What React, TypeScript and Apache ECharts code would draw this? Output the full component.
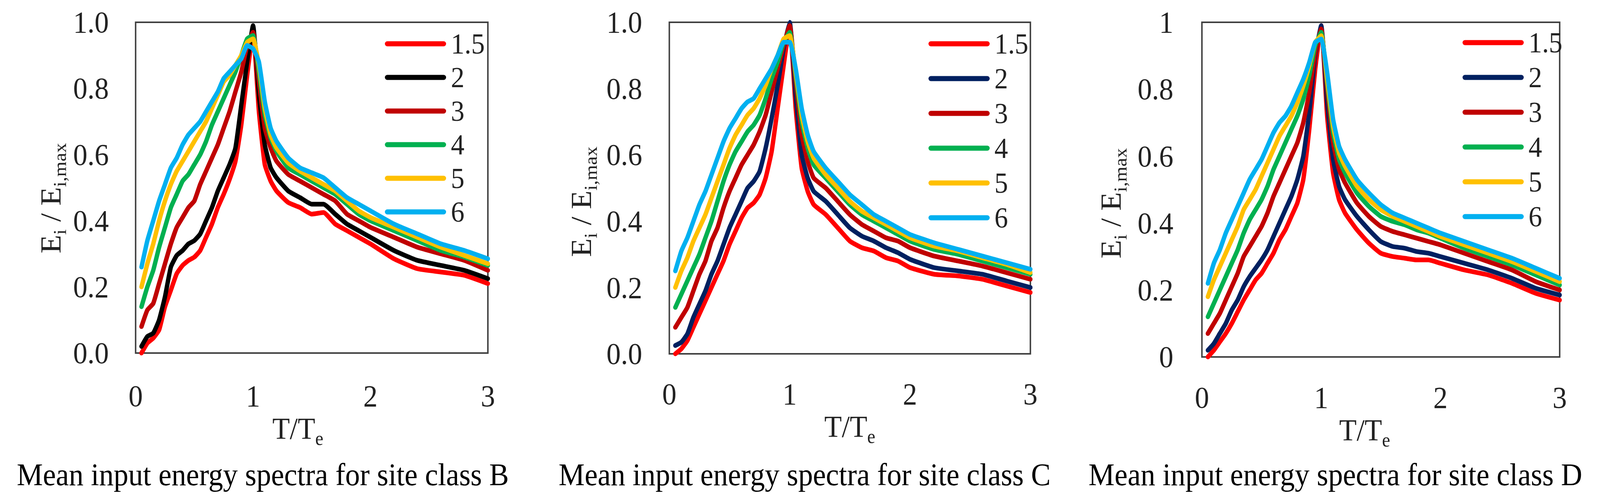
import React, { useEffect, useRef, useState } from "react";
import * as echarts from "echarts";

// ---------- data ----------
const X = [0.05, 0.1, 0.15, 0.2, 0.25, 0.3, 0.35, 0.4, 0.45, 0.5, 0.55, 0.6, 0.65, 0.7, 0.75, 0.8, 0.85, 0.9, 0.95, 1.0,
  1.05, 1.1, 1.15, 1.2, 1.3, 1.4, 1.5, 1.6, 1.7, 1.8, 1.9, 2.0, 2.2, 2.4, 2.6, 2.8, 3.0];
const NAMES = ["1.5", "2", "3", "4", "5", "6"];
const COLORS_B = ["#FF0000", "#000000", "#C00000", "#00B050", "#FFC000", "#00B0F0"];
const COLORS_CD = ["#FF0000", "#002060", "#C00000", "#00B050", "#FFC000", "#00B0F0"];

// Site class B
const B_1_5 = [0.0, 0.03, 0.045, 0.07, 0.14, 0.19, 0.24, 0.265, 0.28, 0.29, 0.31, 0.35, 0.39, 0.44, 0.48, 0.525, 0.58, 0.69, 0.84, 0.97,
  0.73, 0.57, 0.52, 0.49, 0.455, 0.44, 0.42, 0.425, 0.39, 0.37, 0.35, 0.33, 0.285, 0.255, 0.245, 0.235, 0.21];
const B_2 = [0.02, 0.05, 0.06, 0.10, 0.17, 0.26, 0.295, 0.31, 0.33, 0.34, 0.36, 0.40, 0.44, 0.49, 0.53, 0.57, 0.62, 0.75, 0.88, 0.99,
  0.78, 0.63, 0.56, 0.53, 0.49, 0.47, 0.45, 0.45, 0.42, 0.39, 0.37, 0.35, 0.31, 0.28, 0.265, 0.25, 0.225];
const B_3 = [0.08, 0.13, 0.15, 0.21, 0.27, 0.33, 0.38, 0.41, 0.44, 0.46, 0.51, 0.55, 0.59, 0.63, 0.68, 0.73, 0.79, 0.85, 0.93, 0.97,
  0.82, 0.68, 0.62, 0.58, 0.54, 0.52, 0.50, 0.48, 0.46, 0.42, 0.40, 0.38, 0.35, 0.32, 0.30, 0.28, 0.25];
const B_4 = [0.14, 0.20, 0.25, 0.32, 0.38, 0.44, 0.48, 0.52, 0.54, 0.57, 0.60, 0.64, 0.69, 0.73, 0.77, 0.81, 0.85, 0.90, 0.95, 0.96,
  0.85, 0.72, 0.65, 0.61, 0.56, 0.54, 0.52, 0.50, 0.48, 0.45, 0.42, 0.40, 0.37, 0.34, 0.31, 0.29, 0.265];
const B_5 = [0.20, 0.27, 0.33, 0.40, 0.46, 0.51, 0.55, 0.58, 0.61, 0.64, 0.67, 0.70, 0.74, 0.78, 0.82, 0.84, 0.87, 0.90, 0.94, 0.95,
  0.87, 0.74, 0.66, 0.62, 0.575, 0.55, 0.53, 0.51, 0.49, 0.46, 0.43, 0.41, 0.38, 0.35, 0.32, 0.295, 0.27];
const B_6 = [0.26, 0.34, 0.40, 0.46, 0.51, 0.56, 0.59, 0.63, 0.66, 0.68, 0.70, 0.73, 0.76, 0.79, 0.83, 0.85, 0.87, 0.89, 0.93, 0.92,
  0.88, 0.76, 0.68, 0.64, 0.59, 0.56, 0.545, 0.53, 0.50, 0.47, 0.45, 0.43, 0.39, 0.36, 0.33, 0.31, 0.285];

// Site class C
const C_1_5 = [0.0, 0.015, 0.04, 0.08, 0.12, 0.16, 0.20, 0.24, 0.28, 0.33, 0.37, 0.41, 0.44, 0.455, 0.48, 0.53, 0.61, 0.74, 0.87, 0.99,
  0.74, 0.56, 0.49, 0.45, 0.42, 0.38, 0.34, 0.32, 0.31, 0.29, 0.28, 0.26, 0.24, 0.235, 0.225, 0.205, 0.185];
const C_2 = [0.025, 0.035, 0.06, 0.11, 0.15, 0.19, 0.24, 0.28, 0.33, 0.38, 0.42, 0.46, 0.50, 0.52, 0.55, 0.62, 0.71, 0.81, 0.92, 1.0,
  0.78, 0.60, 0.53, 0.49, 0.46, 0.42, 0.38, 0.355, 0.34, 0.32, 0.305, 0.285, 0.26, 0.25, 0.24, 0.22, 0.20];
const C_3 = [0.08, 0.11, 0.14, 0.19, 0.24, 0.28, 0.34, 0.38, 0.44, 0.49, 0.53, 0.57, 0.60, 0.63, 0.67, 0.72, 0.79, 0.86, 0.93, 0.99,
  0.82, 0.66, 0.58, 0.53, 0.50, 0.46, 0.42, 0.39, 0.37, 0.35, 0.34, 0.32, 0.295, 0.28, 0.265, 0.245, 0.225];
const C_4 = [0.14, 0.18, 0.22, 0.26, 0.30, 0.35, 0.40, 0.46, 0.52, 0.57, 0.61, 0.64, 0.67, 0.69, 0.72, 0.77, 0.83, 0.88, 0.94, 0.97,
  0.84, 0.70, 0.62, 0.57, 0.53, 0.49, 0.45, 0.42, 0.40, 0.38, 0.36, 0.34, 0.315, 0.30, 0.28, 0.26, 0.24];
const C_5 = [0.20, 0.25, 0.29, 0.34, 0.38, 0.42, 0.47, 0.52, 0.57, 0.62, 0.66, 0.69, 0.72, 0.74, 0.77, 0.81, 0.86, 0.90, 0.95, 0.96,
  0.85, 0.72, 0.64, 0.59, 0.54, 0.50, 0.46, 0.43, 0.41, 0.39, 0.37, 0.35, 0.325, 0.31, 0.29, 0.27, 0.245];
const C_6 = [0.25, 0.31, 0.35, 0.40, 0.45, 0.49, 0.54, 0.59, 0.64, 0.68, 0.71, 0.74, 0.76, 0.77, 0.80, 0.83, 0.86, 0.90, 0.94, 0.94,
  0.86, 0.74, 0.66, 0.61, 0.56, 0.52, 0.48, 0.45, 0.42, 0.40, 0.38, 0.36, 0.335, 0.315, 0.295, 0.275, 0.255];

// Site class D
const D_1_5 = [0.0, 0.02, 0.045, 0.07, 0.10, 0.135, 0.17, 0.20, 0.23, 0.25, 0.28, 0.31, 0.35, 0.38, 0.42, 0.46, 0.53, 0.68, 0.86, 0.99,
  0.72, 0.55, 0.47, 0.43, 0.38, 0.34, 0.31, 0.30, 0.295, 0.29, 0.29, 0.28, 0.26, 0.245, 0.22, 0.19, 0.17];
const D_2 = [0.02, 0.04, 0.07, 0.10, 0.14, 0.17, 0.21, 0.24, 0.265, 0.29, 0.32, 0.36, 0.40, 0.44, 0.48, 0.53, 0.60, 0.73, 0.90, 0.99,
  0.76, 0.59, 0.51, 0.47, 0.42, 0.38, 0.345, 0.33, 0.325, 0.315, 0.31, 0.30, 0.28, 0.26, 0.235, 0.205, 0.185];
const D_3 = [0.07, 0.10, 0.13, 0.17, 0.21, 0.25, 0.30, 0.33, 0.36, 0.39, 0.43, 0.48, 0.52, 0.56, 0.60, 0.64, 0.70, 0.79, 0.91, 0.98,
  0.80, 0.64, 0.56, 0.52, 0.46, 0.42, 0.39, 0.375, 0.365, 0.355, 0.345, 0.335, 0.31, 0.285, 0.26, 0.225, 0.20];
const D_4 = [0.12, 0.16, 0.20, 0.24, 0.28, 0.32, 0.37, 0.41, 0.44, 0.47, 0.51, 0.56, 0.60, 0.64, 0.68, 0.72, 0.77, 0.84, 0.93, 0.97,
  0.82, 0.67, 0.59, 0.55, 0.49, 0.45, 0.42, 0.405, 0.395, 0.38, 0.37, 0.355, 0.325, 0.30, 0.275, 0.245, 0.215];
const D_5 = [0.18, 0.23, 0.27, 0.31, 0.35, 0.39, 0.44, 0.47, 0.50, 0.54, 0.58, 0.62, 0.66, 0.69, 0.72, 0.76, 0.81, 0.87, 0.94, 0.96,
  0.83, 0.69, 0.61, 0.57, 0.51, 0.47, 0.44, 0.42, 0.405, 0.39, 0.375, 0.36, 0.335, 0.31, 0.285, 0.255, 0.225];
const D_6 = [0.22, 0.28, 0.32, 0.37, 0.41, 0.45, 0.49, 0.53, 0.56, 0.59, 0.63, 0.67, 0.70, 0.72, 0.75, 0.79, 0.83, 0.88, 0.94, 0.95,
  0.85, 0.71, 0.63, 0.59, 0.53, 0.49, 0.455, 0.43, 0.415, 0.40, 0.385, 0.37, 0.345, 0.32, 0.295, 0.265, 0.235];

const CAPTIONS = [
  "Mean input energy spectra for site class B",
  "Mean input energy spectra for site class C",
  "Mean input energy spectra for site class D",
];

// ---------- layout ----------
const PAGE_W = 4365;
const PAGE_H = 1284;
const FONT = "Liberation Serif";
const TXT = "#222222";
const LEGEND_ICON = "path://M6.5,0L160.5,0A6.5,6.5,0,0,1,160.5,13L6.5,13A6.5,6.5,0,0,1,6.5,0Z";

type Panel = {
  left: number; width: number;
  grid: { left: number; top: number; width: number; height: number };
  values: number[][]; colors: string[]; caption: string; capX: number;
  yFmt: (v: number) => string;
  xMargin: number; yMargin: number;
  xNameGap: number; xNameShift: number;
  yNameGap: number; yNameShift: number;
  legendLeft: number; legendTop: number; legendGap: number;
};

const PANELS: Panel[] = [
  {
    left: 0, width: 1450,
    grid: { left: 370, top: 57, width: 961, height: 846 },
    values: [B_1_5, B_2, B_3, B_4, B_5, B_6], colors: COLORS_B, caption: CAPTIONS[0], capX: 717,
    yFmt: (v) => v.toFixed(1),
    xMargin: 71, yMargin: 73, xNameGap: 128, xNameShift: -38, yNameGap: 176, yNameShift: 27,
    legendLeft: 1045, legendTop: 70, legendGap: 12,
  },
  {
    left: 1450, width: 1450,
    grid: { left: 376, top: 57, width: 985, height: 848 },
    values: [C_1_5, C_2, C_3, C_4, C_5, C_6], colors: COLORS_CD, caption: CAPTIONS[1], capX: 745,
    yFmt: (v) => v.toFixed(1),
    xMargin: 64, yMargin: 74, xNameGap: 127, xNameShift: 0, yNameGap: 190, yNameShift: 35,
    legendLeft: 1078, legendTop: 70, legendGap: 15,
  },
  {
    left: 2900, width: 1465,
    grid: { left: 379, top: 57, width: 976, height: 856 },
    values: [D_1_5, D_2, D_3, D_4, D_5, D_6], colors: COLORS_CD, caption: CAPTIONS[2], capX: 743,
    yFmt: (v) => String(Math.round(v * 10) / 10),
    xMargin: 65, yMargin: 78, xNameGap: 129, xNameShift: -44, yNameGap: 198, yNameShift: 35,
    legendLeft: 1085, legendTop: 67, legendGap: 15,
  },
];

function buildOption(p: Panel): any {
  const rich = {
    m: { fontFamily: FONT, fontSize: 78, color: TXT, lineHeight: 100, verticalAlign: "middle" },
    s: { fontFamily: FONT, fontSize: 50, color: TXT, lineHeight: 50, verticalAlign: "bottom" },
  };
  return {
    animation: false,
    backgroundColor: "#ffffff",
    grid: {
      ...p.grid,
      show: true,
      borderColor: "#404040",
      borderWidth: 4,
      backgroundColor: "transparent",
    },
    xAxis: {
      type: "value",
      min: 0,
      max: 3,
      interval: 1,
      axisLine: { show: false },
      axisTick: { show: false },
      splitLine: { show: false },
      axisLabel: { margin: p.xMargin, fontFamily: FONT, fontSize: 78, color: TXT },
      name: "{m|T/T}{s|e}",
      nameLocation: "middle",
      nameGap: p.xNameGap,
      nameTextStyle: {
        fontFamily: FONT,
        fontSize: 78,
        color: TXT,
        padding: p.xNameShift < 0 ? [0, -2 * p.xNameShift, 0, 0] : [0, 0, 0, 2 * p.xNameShift],
        rich,
      },
    },
    yAxis: {
      type: "value",
      min: 0,
      max: 1,
      interval: 0.2,
      axisLine: { show: false },
      axisTick: { show: false },
      splitLine: { show: false },
      axisLabel: { margin: p.yMargin, fontFamily: FONT, fontSize: 78, color: TXT, formatter: p.yFmt },
      name: "{m|E}{s|i}{m| / E}{s|i,max}",
      nameLocation: "middle",
      nameRotate: 90,
      nameGap: p.yNameGap,
      nameTextStyle: {
        fontFamily: FONT,
        fontSize: 78,
        color: TXT,
        padding: [0, 2 * p.yNameShift, 0, 0],
        rich,
      },
    },
    legend: {
      orient: "vertical",
      left: p.legendLeft,
      top: p.legendTop,
      itemWidth: 167,
      itemHeight: 13,
      itemGap: p.legendGap,
      icon: LEGEND_ICON,
      selectedMode: false,
      data: NAMES,
      textStyle: { fontFamily: FONT, fontSize: 74, color: TXT, lineHeight: 70, padding: [0, 0, 0, 8] },
    },
    graphic: [
      {
        type: "text",
        x: p.capX,
        y: 1214,
        style: {
          text: p.caption,
          fontFamily: FONT,
          fontSize: 80,
          fill: "#000000",
          align: "center",
          verticalAlign: "middle",
        },
      },
    ],
    series: NAMES.map((n, i) => ({
      name: n,
      type: "line",
      data: X.map((x, j) => [x, p.values[i][j]]),
      showSymbol: false,
      symbol: "none",
      smooth: 0.15,
      clip: false,
      color: p.colors[i],
      lineStyle: { width: 12, color: p.colors[i], cap: "round", join: "round" },
      itemStyle: { color: p.colors[i] },
      z: 2 + i,
    })),
  };
}

function ChartPanel({ p }: { p: Panel }) {
  const ref = useRef<HTMLDivElement>(null);
  useEffect(() => {
    if (!ref.current) return;
    const chart = echarts.init(ref.current, undefined, { renderer: "svg" });
    chart.setOption(buildOption(p));
    return () => chart.dispose();
  }, [p]);
  return (
    <div
      ref={ref}
      style={{ position: "absolute", left: p.left, top: 0, width: p.width, height: PAGE_H }}
    />
  );
}

// The figure is laid out at 4365x1284 and fitted to whatever viewport the page gets.
function viewportScale(): [number, number] {
  const vw = document.documentElement.clientWidth || window.innerWidth || PAGE_W;
  const vh = window.innerHeight || PAGE_H;
  return [Math.min(1, vw / PAGE_W), Math.min(1, vh / PAGE_H)];
}

export default function App() {
  const [scale, setScale] = useState<[number, number]>(() => viewportScale());
  useEffect(() => {
    const onResize = () => setScale(viewportScale());
    window.addEventListener("resize", onResize);
    return () => window.removeEventListener("resize", onResize);
  }, []);
  return (
    <div style={{ position: "fixed", left: 0, top: 0, width: "100vw", height: "100vh", overflow: "hidden", background: "#ffffff" }}>
      <div
        style={{
          position: "absolute",
          left: 0,
          top: 0,
          width: PAGE_W,
          height: PAGE_H,
          transform: `scale(${scale[0]}, ${scale[1]})`,
          transformOrigin: "0 0",
          background: "#ffffff",
        }}
      >
        {PANELS.map((p, i) => (
          <ChartPanel key={i} p={p} />
        ))}
      </div>
    </div>
  );
}
